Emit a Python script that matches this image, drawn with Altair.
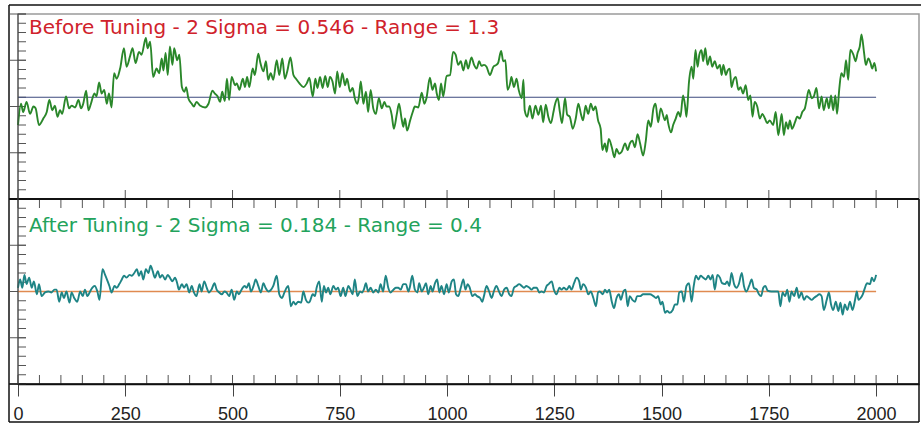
import altair as alt
import pandas as pd

# ---------------- data ----------------
before = [
    (0, -0.20), (7, 0.03), (12, -0.06), (20, 0.05), (28, -0.08), (36, 0.00), (41, -0.02), (49, -0.20),
    (59, -0.13), (67, -0.06), (73, 0.07), (80, -0.04), (86, 0.01), (92, -0.11), (98, -0.04), (103, -0.08),
    (112, 0.11), (119, -0.02), (125, 0.01), (133, -0.01), (141, 0.07), (147, -0.02), (152, 0.03), (159, 0.17),
    (164, -0.04), (170, 0.03), (178, 0.14), (183, 0.11), (189, 0.26), (195, 0.14), (201, 0.18), (207, 0.03),
    (212, 0.14), (218, -0.01), (224, 0.36), (230, 0.30), (238, 0.41), (247, 0.63), (253, 0.43), (261, 0.54),
    (267, 0.63), (274, 0.47), (282, 0.59), (288, 0.56), (298, 0.74), (302, 0.63), (308, 0.70), (315, 0.32),
    (323, 0.41), (329, 0.36), (335, 0.52), (339, 0.39), (344, 0.58), (349, 0.34), (354, 0.65), (360, 0.45),
    (364, 0.63), (371, 0.50), (376, 0.56), (382, 0.21), (388, 0.16), (392, 0.21), (397, 0.09), (405, 0.03),
    (410, 0.00), (416, 0.05), (424, 0.01), (436, -0.01), (444, 0.03), (453, 0.17), (459, 0.14), (465, 0.11),
    (471, 0.05), (476, 0.16), (482, 0.06), (487, 0.30), (492, 0.07), (498, 0.32), (506, 0.23),
    (510, 0.25), (516, 0.18), (524, 0.30), (529, 0.21), (534, 0.32), (539, 0.21), (547, 0.41), (552, 0.34),
    (560, 0.57), (565, 0.47), (572, 0.38), (578, 0.49), (583, 0.29), (589, 0.36), (595, 0.29), (603, 0.50),
    (609, 0.34), (616, 0.52), (622, 0.30), (628, 0.39), (635, 0.53), (642, 0.34), (648, 0.30), (656, 0.25),
    (665, 0.21), (673, 0.25), (679, 0.31), (687, 0.11), (693, 0.30), (698, 0.20), (704, 0.32), (710, 0.20),
    (716, 0.33), (722, 0.21), (727, 0.32), (733, 0.27), (739, 0.14), (744, 0.38), (750, 0.21), (756, 0.36),
    (762, 0.23), (767, 0.30), (774, 0.16), (780, 0.20), (785, 0.09), (791, 0.03), (795, 0.12), (799, 0.27),
    (805, 0.03), (811, 0.16), (816, -0.06), (822, 0.18), (828, -0.02), (834, -0.08), (841, 0.09), (848, -0.02),
    (854, 0.05), (859, 0.00), (865, 0.00), (871, -0.09), (876, -0.24), (883, -0.08), (888, 0.03), (894, -0.13),
    (898, -0.22), (902, -0.13), (907, -0.26), (914, -0.15), (920, -0.06), (925, 0.00), (933, -0.01), (941, 0.15),
    (947, 0.03), (952, 0.09), (960, 0.31), (966, 0.18), (972, 0.25), (976, 0.14), (981, 0.07), (986, 0.25),
    (991, 0.11), (999, 0.33),
    (1007, 0.34), (1014, 0.59), (1020, 0.56), (1026, 0.45), (1032, 0.49), (1038, 0.39), (1044, 0.50), (1049, 0.41),
    (1057, 0.53), (1063, 0.45), (1069, 0.41), (1075, 0.49), (1080, 0.44), (1086, 0.45), (1092, 0.43), (1100, 0.34),
    (1108, 0.43), (1115, 0.45), (1119, 0.47), (1126, 0.60), (1131, 0.49), (1136, 0.50), (1141, 0.18), (1147, 0.25),
    (1150, 0.32), (1156, 0.21), (1162, 0.30), (1167, 0.18), (1174, 0.09), (1178, 0.29), (1181, -0.04), (1187, -0.11),
    (1193, 0.01), (1199, -0.13), (1206, 0.01), (1213, -0.09), (1219, 0.01), (1224, -0.17), (1230, 0.02), (1236, -0.11),
    (1242, -0.18), (1248, -0.06), (1251, 0.01), (1258, 0.09), (1263, -0.06), (1268, -0.18), (1275, 0.09), (1280, -0.09),
    (1286, -0.11), (1293, -0.24), (1300, -0.13), (1306, 0.03), (1312, -0.08), (1317, -0.15), (1323, 0.01), (1329, -0.08),
    (1335, 0.03), (1341, -0.04), (1346, 0.00), (1352, -0.15), (1358, -0.24), (1362, -0.47), (1368, -0.40), (1372, -0.49),
    (1377, -0.35), (1384, -0.44), (1390, -0.55), (1395, -0.46), (1401, -0.51), (1407, -0.49), (1415, -0.40), (1421, -0.47),
    (1426, -0.40), (1432, -0.37), (1438, -0.44), (1444, -0.30), (1450, -0.40), (1457, -0.53), (1463, -0.38), (1469, -0.15),
    (1475, -0.22), (1481, -0.02), (1486, 0.03), (1492, -0.17), (1498, -0.02), (1508, -0.15),
    (1512, -0.09), (1515, -0.17), (1522, -0.28), (1527, -0.20), (1533, -0.13), (1539, -0.06), (1544, -0.11), (1550, 0.12),
    (1555, 0.00), (1558, -0.11), (1564, 0.27), (1570, 0.43), (1574, 0.30), (1579, 0.61), (1584, 0.43), (1588, 0.56),
    (1593, 0.61), (1597, 0.49), (1602, 0.63), (1607, 0.45), (1613, 0.54), (1618, 0.43), (1624, 0.49), (1630, 0.41),
    (1636, 0.45), (1640, 0.34), (1644, 0.45), (1650, 0.34), (1654, 0.39), (1659, 0.41), (1663, 0.21), (1668, 0.29),
    (1673, 0.32), (1679, 0.18), (1684, 0.21), (1690, 0.14), (1696, 0.23), (1702, 0.07), (1707, 0.12), (1712, -0.11),
    (1717, 0.05), (1723, 0.00), (1729, -0.13), (1735, -0.08), (1741, -0.13), (1746, -0.18), (1752, -0.15), (1760, -0.20),
    (1766, -0.06), (1772, -0.31), (1776, -0.20), (1780, -0.08), (1785, -0.31), (1790, -0.17), (1795, -0.24), (1799, -0.15),
    (1804, -0.24), (1811, -0.17), (1816, -0.11), (1822, -0.13), (1828, -0.06), (1834, -0.02), (1838, 0.07), (1843, 0.18),
    (1850, 0.09), (1855, 0.11), (1861, 0.20), (1867, -0.02), (1873, 0.11), (1878, -0.04), (1885, 0.09), (1890, -0.02),
    (1895, 0.12), (1900, -0.04), (1905, 0.12), (1909, -0.08), (1914, 0.18), (1919, 0.36), (1925, 0.32), (1930, 0.50),
    (1935, 0.29), (1940, 0.61), (1947, 0.56), (1952, 0.49), (1957, 0.58), (1962, 0.65), (1966, 0.78), (1972, 0.58),
    (1976, 0.45), (1982, 0.52), (1987, 0.47), (1991, 0.41), (1996, 0.47), (2000, 0.38),
]

after = [
    (0, 0.04), (5, 0.13), (10, 0.04), (15, 0.18), (20, 0.08), (26, 0.15), (32, 0.04), (37, 0.11), (44, -0.03),
    (49, 0.08), (55, -0.05), (63, -0.01), (71, 0.00), (78, -0.01), (85, 0.02), (90, 0.02), (96, -0.11), (102, -0.01),
    (107, -0.07), (113, 0.00), (120, -0.12), (125, -0.01), (131, -0.07), (138, -0.11), (145, 0.00), (151, -0.05),
    (156, 0.02), (162, -0.05), (168, 0.00), (173, 0.04), (179, 0.06), (185, 0.00), (190, -0.09), (197, 0.24),
    (203, 0.18), (209, 0.11), (213, 0.06), (218, -0.01), (225, 0.06), (230, 0.04), (236, 0.08), (242, 0.13),
    (247, 0.17), (253, 0.15), (260, 0.18), (265, 0.17), (271, 0.20), (277, 0.24), (282, 0.17), (287, 0.22),
    (292, 0.13), (298, 0.24), (304, 0.20), (309, 0.28), (314, 0.22), (319, 0.15), (326, 0.22), (331, 0.15),
    (336, 0.18), (343, 0.13), (349, 0.18), (354, 0.15), (360, 0.11), (366, 0.15), (371, 0.09), (375, 0.02),
    (382, 0.08), (387, 0.04), (393, 0.08), (399, -0.01), (405, 0.06), (410, -0.01), (416, -0.05), (423, 0.08),
    (428, 0.00), (434, 0.11), (440, 0.04), (445, -0.01), (451, 0.02), (458, 0.09), (463, 0.02), (469, -0.01),
    (475, -0.03), (481, 0.00), (486, -0.01), (492, -0.05), (498, 0.02), (504, -0.09), (510, 0.00), (515, -0.03),
    (521, 0.02), (528, 0.06), (533, 0.04), (538, 0.09), (543, 0.00), (549, 0.06), (554, 0.13), (560, 0.06),
    (566, -0.01), (572, 0.09), (577, 0.04), (584, 0.00), (590, 0.02), (595, 0.06), (603, 0.17), (609, -0.03),
    (615, -0.07), (621, -0.01), (626, 0.04), (630, 0.06), (636, -0.16), (642, -0.11), (647, -0.14), (653, -0.11),
    (660, -0.12), (665, 0.00), (671, -0.09), (677, -0.12),
    (680, -0.11), (687, -0.03), (692, -0.05), (696, 0.04), (702, 0.11), (708, -0.11), (713, 0.06), (718, -0.01),
    (723, 0.04), (728, -0.03), (735, 0.06), (741, 0.02), (746, 0.04), (752, -0.05), (758, 0.04), (763, -0.05),
    (770, 0.06), (775, 0.02), (780, -0.03), (785, 0.13), (791, -0.05), (797, 0.00), (802, -0.01), (806, 0.02),
    (811, 0.09), (816, 0.00), (822, 0.04), (828, -0.01), (834, 0.02), (840, -0.01), (845, 0.08), (851, 0.00),
    (857, 0.17), (863, 0.04), (868, -0.01), (875, 0.02), (881, 0.04), (886, 0.04), (892, 0.02), (898, 0.08),
    (904, 0.08), (910, 0.00), (913, 0.04), (919, 0.17), (925, 0.02), (931, -0.01), (935, 0.09), (941, 0.00),
    (946, 0.04), (951, 0.09), (956, -0.03), (962, 0.06), (966, 0.00), (972, 0.09), (977, 0.13), (982, -0.01),
    (987, 0.06), (993, -0.03), (999, 0.08), (1004, -0.01), (1011, 0.11), (1016, 0.13), (1021, -0.03), (1026, -0.05),
    (1032, 0.04), (1038, 0.13), (1043, 0.02), (1048, 0.08), (1053, 0.04), (1059, -0.05), (1065, -0.03), (1070, -0.05),
    (1077, -0.07), (1082, -0.11), (1086, -0.05), (1092, 0.06), (1098, 0.00), (1104, -0.07), (1109, 0.00), (1115, 0.06),
    (1122, -0.01), (1127, -0.05), (1133, 0.02), (1139, 0.04), (1145, -0.03), (1150, -0.05), (1156, 0.04), (1162, 0.06),
    (1168, 0.08), (1174, 0.06), (1179, 0.04), (1185, 0.06), (1192, 0.04), (1197, 0.02), (1202, 0.04), (1209, 0.04),
    (1215, -0.01), (1220, 0.00), (1226, -0.01), (1232, 0.06), (1237, 0.08), (1244, 0.11), (1249, 0.02), (1255, -0.03),
    (1262, 0.04), (1267, 0.02), (1272, 0.04), (1279, 0.02), (1285, 0.06), (1290, 0.02), (1296, 0.09), (1302, 0.15),
    (1308, 0.11), (1312, 0.02), (1317, 0.08), (1324, 0.04), (1329, -0.03), (1335, 0.00), (1341, -0.07), (1347, -0.16),
    (1352, -0.01),
    (1356, 0.00), (1363, -0.03), (1368, 0.02), (1373, -0.01), (1378, 0.02), (1384, -0.11), (1389, -0.18), (1395, -0.07),
    (1401, -0.03), (1405, -0.09), (1411, 0.00), (1416, 0.02), (1421, -0.16), (1426, -0.05), (1432, -0.09), (1438, -0.11),
    (1443, -0.05), (1450, -0.05), (1457, -0.03), (1465, -0.03), (1473, -0.03), (1481, -0.05), (1487, -0.07), (1492, -0.05),
    (1498, -0.14), (1502, -0.11), (1508, -0.23), (1513, -0.21), (1519, -0.23), (1526, -0.20), (1531, -0.14), (1537, -0.14),
    (1541, -0.01), (1547, 0.00), (1552, -0.11), (1558, 0.06), (1564, 0.09), (1570, -0.11), (1575, 0.06), (1580, 0.17),
    (1586, 0.13), (1591, 0.17), (1597, 0.15), (1603, 0.13), (1609, 0.17), (1614, 0.13), (1619, 0.18), (1624, 0.02),
    (1630, 0.18), (1636, 0.15), (1641, 0.09), (1648, 0.08), (1653, 0.11), (1658, 0.06), (1663, 0.20), (1669, 0.08),
    (1675, 0.04), (1680, 0.08), (1687, 0.20), (1692, 0.06), (1698, 0.00), (1704, 0.06), (1710, 0.13), (1715, 0.04),
    (1722, 0.02), (1727, -0.03), (1732, -0.05), (1737, 0.04), (1742, 0.06), (1747, 0.01), (1756, 0.00), (1764, 0.00),
    (1772, 0.00), (1777, -0.16), (1782, -0.01), (1788, -0.05), (1793, 0.02), (1798, -0.11), (1803, 0.00), (1809, -0.05),
    (1815, 0.04), (1820, -0.07), (1826, -0.01), (1832, -0.09), (1838, -0.05), (1844, -0.07), (1850, -0.09), (1855, -0.07),
    (1861, -0.05), (1868, -0.03), (1873, -0.05), (1878, -0.20), (1885, -0.09), (1890, -0.01), (1895, -0.14), (1900, -0.20),
    (1906, -0.11), (1912, -0.21), (1917, -0.12), (1922, -0.25), (1927, -0.14), (1933, -0.20), (1939, -0.11), (1945, -0.20),
    (1951, -0.09), (1955, 0.00), (1959, -0.09), (1964, -0.07), (1969, -0.03), (1974, 0.04), (1979, 0.09), (1986, 0.08),
    (1990, 0.15), (1995, 0.11), (2000, 0.18),
]

before_mean = 0.10
after_mean = 0.0
line_start, line_end = 0, 2000

title_before = "Before Tuning - 2 Sigma = 0.546 - Range = 1.3"
title_after = "After Tuning - 2 Sigma = 0.184 - Range = 0.4"

x_labels = [0, 250, 500, 750, 1000, 1250, 1500, 1750, 2000]
x_minor = [0, 50, 100, 150, 200, 250, 300, 350, 400, 450, 500, 550, 600, 650, 700, 750, 800, 850, 900, 950,
           1000, 1050, 1100, 1150, 1200, 1250, 1300, 1350, 1400, 1450, 1500, 1550, 1600, 1650, 1700, 1750,
           1800, 1850, 1900, 1950, 2000, 2050]

# panel offset: top panel is drawn 2 units above the bottom one on a shared y scale
TOP_OFFSET = 2
y_minor = [round(-1 + 0.1 * i, 1) for i in range(41)]
y_major = [-1, -0.5, 0, 0.5, 1, 1.5, 2, 2.5, 3]

# ---------------- chart ----------------
W, H = 901, 370
xscale = alt.Scale(domain=[0, 2100], nice=False, zero=False)
yscale = alt.Scale(domain=[-1, 3], nice=False, zero=False)
xaxis = alt.Axis(values=x_labels, format="d", title=None, grid=False, tickSize=12, tickColor="#444", tickWidth=1,
                 domainColor="#111", domainWidth=1.5, labelFont="Liberation Sans", labelFontSize=18,
                 labelColor="#222", labelPadding=9, labelFlush=False, labelOverlap=False)

X = alt.X("x:Q", scale=xscale, axis=xaxis)
Y = alt.Y("y:Q", scale=yscale, axis=None)

df_before = pd.DataFrame(before, columns=["x", "v"])
df_after = pd.DataFrame(after, columns=["x", "v"])

line_before = alt.Chart(df_before).transform_calculate(y=f"datum.v + {TOP_OFFSET}").mark_line(
    color="#2a872a", strokeWidth=1.9, interpolate="monotone").encode(x=X, y=Y)
line_after = alt.Chart(df_after).transform_calculate(y="datum.v").mark_line(
    color="#1e8485", strokeWidth=1.9, interpolate="monotone").encode(x=X, y=Y)

df_mean_top = pd.DataFrame({"x": [line_start], "x2": [line_end], "y": [before_mean + TOP_OFFSET]})
df_mean_bot = pd.DataFrame({"x": [line_start], "x2": [line_end], "y": [after_mean]})
mean_top = alt.Chart(df_mean_top).mark_rule(color="#3d4a7e", strokeWidth=1.2).encode(x=X, x2="x2:Q", y=Y)
mean_bot = alt.Chart(df_mean_bot).mark_rule(color="#e08a50", strokeWidth=1.4).encode(x=X, x2="x2:Q", y=Y)

df_ymin = pd.DataFrame({"y": y_minor})
df_ymaj = pd.DataFrame({"y": y_major})
df_xmin = pd.DataFrame({"x": x_minor})
df_xmaj = pd.DataFrame({"x": x_labels})

tick_col = "#555"
left_minor = alt.Chart(df_ymin).mark_rule(color=tick_col, strokeWidth=1).encode(
    y=Y, x=alt.value(0), x2=alt.value(8))
left_major = alt.Chart(df_ymaj).mark_rule(color=tick_col, strokeWidth=1).encode(
    y=Y, x=alt.value(-8), x2=alt.value(8))
mid_minor = alt.Chart(df_xmin).mark_rule(color=tick_col, strokeWidth=1).encode(
    x=X, y=alt.value(185), y2=alt.value(194))
mid_major = alt.Chart(df_xmaj).mark_rule(color=tick_col, strokeWidth=1).encode(
    x=X, y=alt.value(176), y2=alt.value(185))
bot_minor = alt.Chart(df_xmin).mark_rule(color=tick_col, strokeWidth=1).encode(
    x=X, y=alt.value(361), y2=alt.value(370))

one = pd.DataFrame({"k": [0]})
sep = alt.Chart(one).mark_rule(color="#111", strokeWidth=2).encode(
    y=alt.datum(1, scale=yscale), x=alt.value(-9), x2=alt.value(W))
base_line = alt.Chart(one).mark_rule(color="#111", strokeWidth=1.5).encode(
    y=alt.datum(-1, scale=yscale), x=alt.value(-9), x2=alt.value(W))
left_axis = alt.Chart(one).mark_rule(color="#444", strokeWidth=1).encode(
    x=alt.value(0), y=alt.value(0), y2=alt.value(H))

frame_col = "#111"
frame_top = alt.Chart(one).mark_rule(color=frame_col, strokeWidth=1.5).encode(
    x=alt.value(-9), x2=alt.value(W + 3), y=alt.value(-9))
frame_left = alt.Chart(one).mark_rule(color=frame_col, strokeWidth=1.5).encode(
    x=alt.value(-9), y=alt.value(-9), y2=alt.value(408))
frame_bottom = alt.Chart(one).mark_rule(color=frame_col, strokeWidth=1.5).encode(
    x=alt.value(-9), x2=alt.value(W), y=alt.value(408))
frame_right = alt.Chart(one).mark_rule(color=frame_col, strokeWidth=1.5).encode(
    x=alt.value(W), y=alt.value(185), y2=alt.value(408))

txt_top = alt.Chart(pd.DataFrame({"t": [title_before]})).mark_text(
    font="DejaVu Sans", fontSize=20, color="#d0222b", align="left", baseline="alphabetic").encode(
    text="t:N", x=alt.value(11), y=alt.value(20))
txt_bot = alt.Chart(pd.DataFrame({"t": [title_after]})).mark_text(
    font="DejaVu Sans", fontSize=20, color="#23a35c", align="left", baseline="alphabetic").encode(
    text="t:N", x=alt.value(11), y=alt.value(218))

chart = alt.layer(
    left_minor, left_major, mid_minor, mid_major, bot_minor,
    mean_top, mean_bot, line_before, line_after,
    sep, base_line, left_axis,
    frame_top, frame_left, frame_bottom, frame_right,
    txt_top, txt_bot,
).properties(
    width=W, height=H,
    padding={"left": 18, "top": 14, "right": 2, "bottom": 44},
    autosize=alt.AutoSizeParams(type="none"),
    background="white",
).configure_view(stroke="#9a9a9a", strokeWidth=1.5)

chart.save("out.html", embed_options={"renderer": "svg", "actions": False})
